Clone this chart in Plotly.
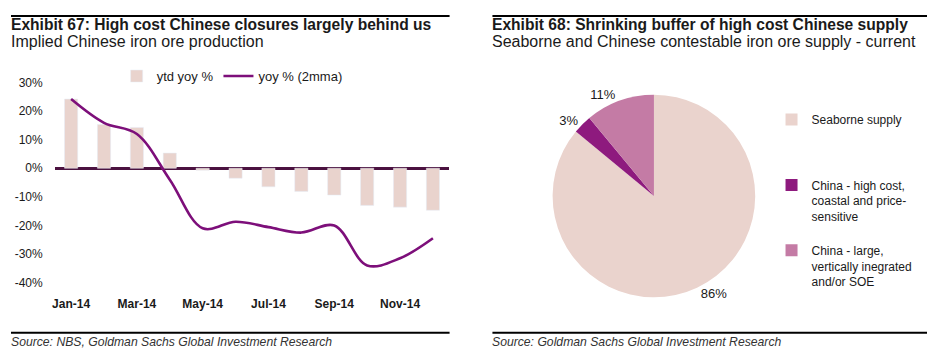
import plotly.graph_objects as go

months = ["Jan-14", "Feb-14", "Mar-14", "Apr-14", "May-14", "Jun-14",
          "Jul-14", "Aug-14", "Sep-14", "Oct-14", "Nov-14", "Dec-14"]
ytd_yoy = [24.2, 15.3, 14.3, 5.3, -0.7, -3.5, -6.5, -8.1, -9.4, -13.0, -13.6, -14.7]
yoy_2mma = [24.2, 15.9, 12.0, -4.0, -21.0, -18.7, -20.6, -22.5, -20.0, -34.0, -31.5, -24.5]
tick_months = ["Jan-14", "Mar-14", "May-14", "Jul-14", "Sep-14", "Nov-14"]
y_ticks = [30, 20, 10, 0, -10, -20, -30, -40]

pie_labels = ["Seaborne supply",
              "China - high cost,<br>coastal and price-<br>sensitive",
              "China - large,<br>vertically inegrated<br>and/or SOE"]
pie_values = [86, 3, 11]
pie_colors = ["#EAD3CD", "#8E1A7E", "#C47BA5"]

# The page body has an 8px margin: work in page pixels and convert.
OFF = 8
W, H = 935 - OFF, 359 - OFF
def px(x):
    return (x - OFF) / W
def py(y):
    return 1 - (y - OFF) / H

FONT = "Liberation Sans, Arial, Helvetica, sans-serif"
TXT = "#1a1a1a"

fig = go.Figure()
fig.add_trace(go.Bar(x=months, y=ytd_yoy, name="ytd yoy %", marker_color="#E9D3CD",
                     width=0.4, legend="legend"))
fig.add_trace(go.Scatter(x=months, y=yoy_2mma, name="yoy % (2mma)", mode="lines",
                         line=dict(color="#7D0F7A", width=2.6, shape="spline", smoothing=1.0),
                         legend="legend"))
pad = "<br> "
legend_names = [pie_labels[0] + pad * 3, pie_labels[1] + pad, pie_labels[2]]
fig.add_trace(go.Pie(labels=legend_names, values=pie_values, sort=False, direction="clockwise",
                     rotation=0, marker=dict(colors=pie_colors), textposition="outside",
                     texttemplate="%{value}%", textfont=dict(size=13, color=TXT),
                     domain=dict(x=[px(547), px(759)], y=[py(302), py(91)]),
                     legend="legend2", showlegend=True, hoverinfo="label+percent"))

fig.update_layout(
    width=W, height=H, margin=dict(l=0, r=0, t=0, b=0),
    paper_bgcolor="white", plot_bgcolor="white",
    font=dict(family=FONT, size=12, color=TXT),
    xaxis=dict(domain=[px(51.8), px(447.8)], type="category", categoryorder="array",
               categoryarray=months, tickmode="array", tickvals=tick_months,
               ticktext=["<b>%s</b>" % m for m in tick_months], showline=False,
               showgrid=False, zeroline=False, ticks="", ticklabelstandoff=12,
               tickfont=dict(size=12, color=TXT), range=[-0.5, 11.5]),
    yaxis=dict(domain=[py(286.7), py(78.3)], range=[-40, 30], tickvals=y_ticks,
               ticktext=["%d%%" % v for v in y_ticks], showgrid=False, showline=False,
               zeroline=True, zerolinecolor="#4B1240", zerolinewidth=3, ticks="",
               ticklabelstandoff=11, tickfont=dict(size=12, color=TXT)),
    legend=dict(orientation="h", x=px(114), y=py(56), xanchor="left", yanchor="top",
                font=dict(size=13, color=TXT), bgcolor="rgba(0,0,0,0)"),
    legend2=dict(x=px(771), y=py(102), xanchor="left", yanchor="top", valign="top",
                 font=dict(size=12, color=TXT), bgcolor="rgba(0,0,0,0)",
                 tracegroupgap=0, itemclick=False, itemdoubleclick=False),
)

texts = [
    (8, 18, "<b>Exhibit 67: High cost Chinese closures largely behind us</b>", 15.6, TXT),
    (8, 36, "Implied Chinese iron ore production", 16, TXT),
    (491, 18, "<b>Exhibit 68: Shrinking buffer of high cost Chinese supply</b>", 15.6, TXT),
    (491, 36, "Seaborne and Chinese contestable iron ore supply - current", 16, TXT),
    (8, 349, "<i>Source: NBS, Goldman Sachs Global Investment Research</i>", 12.2, "#333"),
    (491, 349, "<i>Source: Goldman Sachs Global Investment Research</i>", 12.2, "#333"),
]
for x, y, t, s, c in texts:
    fig.add_annotation(x=px(x), y=py(y), xref="paper", yref="paper", text=t, showarrow=False,
                       xanchor="left", yanchor="middle", xshift=-2, font=dict(size=s, color=c))

for x0, x1 in [(8, 448), (491, 932)]:
    fig.add_shape(type="line", xref="paper", yref="paper", x0=px(x0), x1=px(x1),
                  y0=py(9), y1=py(9), line=dict(color="black", width=2))
    fig.add_shape(type="line", xref="paper", yref="paper", x0=px(x0), x1=px(x1),
                  y0=py(339), y1=py(339), line=dict(color="black", width=2))

fig.write_html("out.html")
